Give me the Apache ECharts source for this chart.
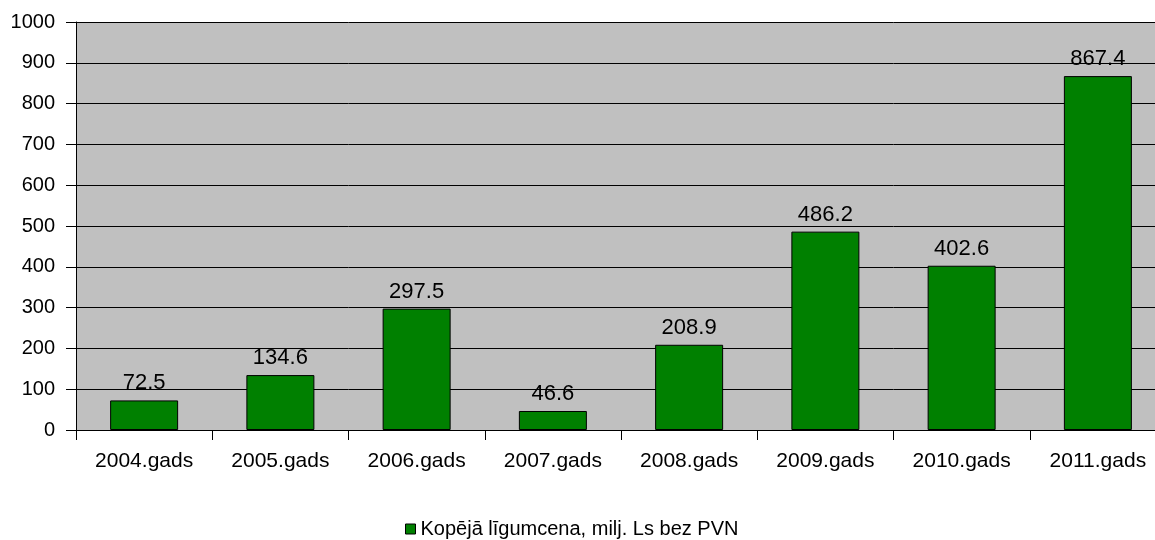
<!DOCTYPE html>
<html>
<head>
<meta charset="utf-8">
<script src="https://cdn.jsdelivr.net/npm/echarts@6/dist/echarts.min.js"></script>
<style>
html,body{margin:0;padding:0;background:#fff;overflow:hidden;}
#chart{width:1170px;height:540px;}
</style>
</head>
<body>
<div id="chart"></div>
<script>
var categories = ['2004.gads', '2005.gads', '2006.gads', '2007.gads', '2008.gads', '2009.gads', '2010.gads', '2011.gads'];
var values = [72.5, 134.6, 297.5, 46.6, 208.9, 486.2, 402.6, 867.4];
var seriesName = 'Kopējā līgumcena, milj. Ls bez PVN';

var chart = echarts.init(document.getElementById('chart'));
var font = 'Liberation Sans, Arial, sans-serif';

chart.setOption({
    animation: false,
    textStyle: {fontFamily: font},
    legend: {
        top: 514,
        left: 400,
        itemWidth: 10,
        itemHeight: 10,
        itemGap: 6,
        textStyle: {fontSize: 20, color: '#000', fontFamily: font},
        data: [{name: seriesName, icon: 'rect', itemStyle: {borderColor: '#000', borderWidth: 1}}]
    },
    grid: {left: 76, top: 22, width: 1090, height: 408, backgroundColor: '#c0c0c0', show: true, borderWidth: 0,
        outerBoundsMode: 'none'},
    xAxis: {
        type: 'category',
        data: categories,
        axisLine: {lineStyle: {color: '#000', width: 1}},
        axisTick: {show: true, length: 10, lineStyle: {color: '#000'}},
        axisLabel: {color: '#000', fontSize: 21, margin: 21, fontFamily: font}
    },
    yAxis: {
        type: 'value',
        min: 0,
        max: 1000,
        interval: 100,
        axisLine: {show: true, lineStyle: {color: '#000', width: 1}},
        axisTick: {show: true, length: 10, lineStyle: {color: '#000'}},
        axisLabel: {color: '#000', fontSize: 20, margin: 21, fontFamily: font,
            formatter: function (v) { return String(v); }},
        splitLine: {show: true, lineStyle: {color: '#000', width: 1}}
    },
    series: [{
        name: seriesName,
        type: 'bar',
        data: values,
        barWidth: 68,
        itemStyle: {color: '#008000', borderColor: '#000', borderWidth: 1},
        label: {show: true, position: 'top', distance: 6, color: '#000', fontSize: 22, fontFamily: font,
            formatter: function (p) { return p.value.toFixed(1); }}
    }]
});
</script>
</body>
</html>
